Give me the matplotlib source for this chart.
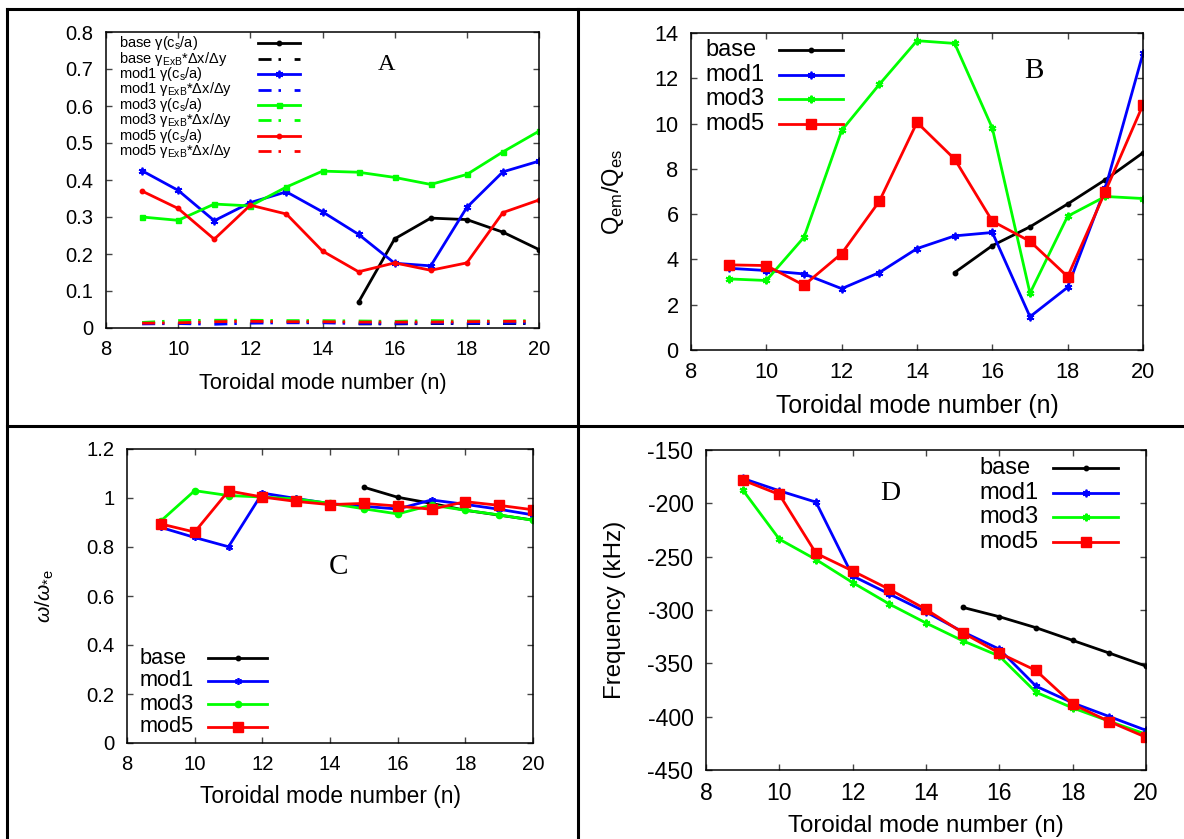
import matplotlib
matplotlib.use('Agg')
import matplotlib.pyplot as plt
from matplotlib.lines import Line2D
from matplotlib.ticker import FuncFormatter, MultipleLocator

plt.rcParams['font.family'] = ['Liberation Sans', 'DejaVu Sans']
plt.rcParams['axes.unicode_minus'] = False
plt.rcParams['mathtext.fontset'] = 'custom'
plt.rcParams['mathtext.rm'] = 'Liberation Sans'
plt.rcParams['mathtext.it'] = 'Liberation Sans:italic'
plt.rcParams['mathtext.sf'] = 'Liberation Sans'
plt.rcParams['lines.scale_dashes'] = False

# ---------------- data ----------------
n_mod = [9, 10, 11, 12, 13, 14, 15, 16, 17, 18, 19, 20]
n_base = [15, 16, 17, 18, 19, 20]

# Panel A: growth rate gamma (c_s/a) and gamma_ExB * dx/dy
gamma_base = [0.070, 0.241, 0.297, 0.293, 0.259, 0.212]
gamma_mod1 = [0.425, 0.372, 0.290, 0.339, 0.368, 0.314, 0.253, 0.175, 0.168, 0.326, 0.422, 0.451]
gamma_mod3 = [0.300, 0.291, 0.335, 0.330, 0.381, 0.424, 0.421, 0.407, 0.388, 0.415, 0.476, 0.532]
gamma_mod5 = [0.370, 0.323, 0.240, 0.332, 0.308, 0.208, 0.152, 0.176, 0.156, 0.176, 0.312, 0.346]
exb_base = [0.011, 0.011, 0.012, 0.012, 0.012, 0.012]
exb_mod1 = [0.011, 0.012, 0.010, 0.013, 0.014, 0.014, 0.012, 0.012, 0.013, 0.013, 0.013, 0.014]
exb_mod3 = [0.015, 0.020, 0.021, 0.021, 0.020, 0.020, 0.019, 0.018, 0.020, 0.019, 0.019, 0.020]
exb_mod5 = [0.013, 0.014, 0.017, 0.018, 0.017, 0.017, 0.016, 0.016, 0.016, 0.017, 0.018, 0.018]

# Panel B: Q_em / Q_es
q_base = [3.42, 4.61, 5.44, 6.45, 7.52, 8.71]
q_mod1 = [3.61, 3.51, 3.36, 2.71, 3.42, 4.48, 5.04, 5.19, 1.47, 2.77, 7.15, 13.1]
q_mod3 = [3.14, 3.07, 4.98, 9.70, 11.73, 13.66, 13.54, 9.80, 2.51, 5.91, 6.78, 6.69]
q_mod5 = [3.76, 3.73, 2.86, 4.26, 6.57, 10.05, 8.43, 5.69, 4.80, 3.24, 7.00, 10.83]

# Panel C: omega / omega_*e
w_base = [1.044, 1.003, 0.978, 0.950, 0.930, 0.910]
w_mod1 = [0.880, 0.839, 0.801, 1.020, 0.998, 0.977, 0.966, 0.955, 0.992, 0.974, 0.954, 0.931]
w_mod3 = [0.906, 1.030, 1.010, 1.004, 0.996, 0.978, 0.956, 0.935, 0.971, 0.950, 0.931, 0.909]
w_mod5 = [0.894, 0.861, 1.029, 1.004, 0.986, 0.973, 0.978, 0.967, 0.954, 0.985, 0.970, 0.952]

# Panel D: frequency (kHz)
f_base = [-297.5, -306.3, -316.6, -328.5, -340.4, -352.6]
f_mod1 = [-176.6, -188.2, -198.9, -268.1, -285.0, -301.9, -320.4, -336.7, -371.4, -387.1, -399.9, -412.8]
f_mod3 = [-187.3, -233.6, -252.7, -274.3, -294.4, -312.2, -328.8, -343.2, -377.1, -391.8, -404.3, -416.5]
f_mod5 = [-178.2, -191.7, -246.8, -263.4, -280.6, -299.4, -321.3, -340.4, -356.7, -388.3, -404.6, -419.3]

xlabel_text = 'Toroidal mode number (n)'

# ---------------- layout ----------------
W, H = 1184, 839
fig = plt.figure(figsize=(W / 100, H / 100), dpi=100)

BLACK, BLUE, GREEN, RED = '#000000', '#0000ff', '#00ff00', '#ff0000'
LW = 2.0
EXB_DASH = (0, (9.4, 5.0, 1.8, 9.8))
AST = (6, 2, 0)

box_A = (106, 32, 539, 328)
box_B = (691, 33, 1143, 350)
box_C = (127, 449, 533, 743)
box_D = (706, 450, 1146, 770)


def make_ax(box):
    l, t, r, b = box
    return fig.add_axes([l / W, 1 - b / H, (r - l) / W, (b - t) / H])


def style_ax(ax, box, xlim, ylim, ystep, tick_fs, xl_fs, xl_y, ylabel=None, yl_x=None, yl_fs=None):
    l, t, r, b = box
    ax.set_xlim(*xlim)
    ax.set_ylim(*ylim)
    ax.xaxis.set_major_locator(MultipleLocator(2))
    ax.yaxis.set_major_locator(MultipleLocator(ystep))
    fmt = FuncFormatter(lambda v, p: f'{v:g}')
    ax.xaxis.set_major_formatter(fmt)
    ax.yaxis.set_major_formatter(fmt)
    ax.tick_params(direction='in', top=True, right=True, length=4.5, width=1.0,
                   labelsize=tick_fs, color='#444444')
    ax.tick_params(axis='y', pad=9)
    ax.tick_params(axis='x', pad=9)
    for s in ax.spines.values():
        s.set_linewidth(1.1)
    ax.set_xlabel(xlabel_text, fontsize=xl_fs)
    ax.xaxis.label.set_va('center')
    ax.xaxis.set_label_coords(0.5, (b - xl_y) / (b - t))
    if ylabel is not None:
        ax.set_ylabel(ylabel, fontsize=yl_fs)
        ax.yaxis.label.set_va('center')
        ax.yaxis.set_label_coords((yl_x - l) / (r - l), 0.5)


def draw_key(ax, box, entries, x_text, x0, x1, y_first, dy, fs):
    l, t, r, b = box
    fx = lambda x: (x - l) / (r - l)
    fy = lambda y: (b - y) / (b - t)
    for i, (label, st) in enumerate(entries):
        y = fy(y_first + i * dy)
        ax.text(fx(x_text), y, label, transform=ax.transAxes, ha='left', va='center', fontsize=fs)
        xm = (fx(x0) + fx(x1)) / 2
        ln = Line2D([fx(x0), xm, fx(x1)], [y, y, y], transform=ax.transAxes,
                    markevery=[1], clip_on=False, **st)
        ax.add_line(ln)


# ---------------- Panel A ----------------
axA = make_ax(box_A)
sA = {
    'base': dict(color=BLACK, lw=LW, ls='-', marker='o', ms=3.2),
    'baseE': dict(color=BLACK, lw=LW, ls=EXB_DASH, dash_capstyle='butt'),
    'mod1': dict(color=BLUE, lw=LW, ls='-', marker=AST, ms=5.5, mew=1.3),
    'mod1E': dict(color=BLUE, lw=LW, ls=EXB_DASH, dash_capstyle='butt'),
    'mod3': dict(color=GREEN, lw=LW, ls='-', marker='s', ms=3.6),
    'mod3E': dict(color=GREEN, lw=LW, ls=EXB_DASH, dash_capstyle='butt'),
    'mod5': dict(color=RED, lw=LW, ls='-', marker='o', ms=3.2),
    'mod5E': dict(color=RED, lw=LW, ls=EXB_DASH, dash_capstyle='butt'),
}
axA.plot(n_base, gamma_base, **sA['base'])
axA.plot(n_base, exb_base, **sA['baseE'])
axA.plot(n_mod, gamma_mod1, **sA['mod1'])
axA.plot(n_mod, exb_mod1, **sA['mod1E'])
axA.plot(n_mod, gamma_mod3, **sA['mod3'])
axA.plot(n_mod, exb_mod3, **sA['mod3E'])
axA.plot(n_mod, gamma_mod5, **sA['mod5'])
axA.plot(n_mod, exb_mod5, **sA['mod5E'])
style_ax(axA, box_A, (8, 20), (0, 0.8), 0.1, 14.5, 15.6, 384)
g_lab = r'γ(c$_{\rm s}$/a)'
e_lab = r'γ$_{\rm ExB}$*Δx/Δy'
draw_key(axA, box_A, [
    ('base ' + g_lab, sA['base']), ('base ' + e_lab, sA['baseE']),
    ('mod1 ' + g_lab, sA['mod1']), ('mod1 ' + e_lab, sA['mod1E']),
    ('mod3 ' + g_lab, sA['mod3']), ('mod3 ' + e_lab, sA['mod3E']),
    ('mod5 ' + g_lab, sA['mod5']), ('mod5 ' + e_lab, sA['mod5E']),
], 119, 258, 300, 43.3, 15.4, 10.5)

# ---------------- Panel B ----------------
axB = make_ax(box_B)
sB = {
    'base': dict(color=BLACK, lw=LW, ls='-', marker='o', ms=3.2),
    'mod1': dict(color=BLUE, lw=LW, ls='-', marker=AST, ms=5.5, mew=1.3),
    'mod3': dict(color=GREEN, lw=LW, ls='-', marker=AST, ms=5.5, mew=1.5),
    'mod5': dict(color=RED, lw=LW, ls='-', marker='s', ms=7),
}
axB.plot(n_base, q_base, **sB['base'])
axB.plot(n_mod, q_mod1, **sB['mod1'])
axB.plot(n_mod, q_mod3, **sB['mod3'])
axB.plot(n_mod, q_mod5, **sB['mod5'])
style_ax(axB, box_B, (8, 20), (0, 14), 2, 15.7, 17.8, 406,
         ylabel=r'Q$_{\rm em}$/Q$_{\rm es}$', yl_x=613, yl_fs=17)
draw_key(axB, box_B, [('base', sB['base']), ('mod1', sB['mod1']),
                      ('mod3', sB['mod3']), ('mod5', sB['mod5'])],
         705, 779, 843, 50, 24.7, 17)

# ---------------- Panel C ----------------
axC = make_ax(box_C)
sC = {
    'base': dict(color=BLACK, lw=LW, ls='-', marker='o', ms=3.2),
    'mod1': dict(color=BLUE, lw=LW, ls='-', marker=AST, ms=5, mew=1.2),
    'mod3': dict(color=GREEN, lw=LW, ls='-', marker='o', ms=4.5),
    'mod5': dict(color=RED, lw=LW, ls='-', marker='s', ms=7),
}
axC.plot(n_base, w_base, **sC['base'])
axC.plot(n_mod, w_mod1, **sC['mod1'])
axC.plot(n_mod, w_mod3, **sC['mod3'])
axC.plot(n_mod, w_mod5, **sC['mod5'])
style_ax(axC, box_C, (8, 20), (0, 1.2), 0.2, 14.6, 16.4, 797,
         ylabel=r'$\omega/\omega_{*\rm e}$', yl_x=45, yl_fs=15)
draw_key(axC, box_C, [('base', sC['base']), ('mod1', sC['mod1']),
                      ('mod3', sC['mod3']), ('mod5', sC['mod5'])],
         140, 208, 267, 658, 23, 15.7)

# ---------------- Panel D ----------------
axD = make_ax(box_D)
sD = {
    'base': dict(color=BLACK, lw=LW, ls='-', marker='o', ms=3.2),
    'mod1': dict(color=BLUE, lw=LW, ls='-', marker=AST, ms=5.5, mew=1.3),
    'mod3': dict(color=GREEN, lw=LW, ls='-', marker=AST, ms=5.5, mew=1.5),
    'mod5': dict(color=RED, lw=LW, ls='-', marker='s', ms=7),
}
axD.plot(n_base, f_base, **sD['base'])
axD.plot(n_mod, f_mod1, **sD['mod1'])
axD.plot(n_mod, f_mod3, **sD['mod3'])
axD.plot(n_mod, f_mod5, **sD['mod5'])
style_ax(axD, box_D, (8, 20), (-450, -150), 50, 16.6, 17.4, 826,
         ylabel='Frequency (kHz)', yl_x=615, yl_fs=17.4)
draw_key(axD, box_D, [('base', sD['base']), ('mod1', sD['mod1']),
                      ('mod3', sD['mod3']), ('mod5', sD['mod5'])],
         979, 1053, 1118, 468, 24.7, 17)

# ---------------- panel letters ----------------
for letter, x, y, fs in [('A', 387, 65, 17.5), ('B', 1034, 71, 21), ('C', 338, 567, 21), ('D', 890, 494, 20)]:
    fig.text(x / W, 1 - y / H, letter, ha='center', va='center', fontsize=fs,
             family=['Liberation Serif', 'DejaVu Serif'])

# ---------------- table borders ----------------
def fline(xs, ys):
    fig.add_artist(Line2D([v / W for v in xs], [1 - v / H for v in ys], color='black',
                          lw=2.2, transform=fig.transFigure, solid_capstyle='projecting'))

fline([7, W], [8.5, 8.5])
fline([7, 7], [8.5, H])
fline([577.7, 577.7], [8.5, H])
fline([7, W], [425.7, 425.7])

fig.savefig('out.png', dpi=100)
